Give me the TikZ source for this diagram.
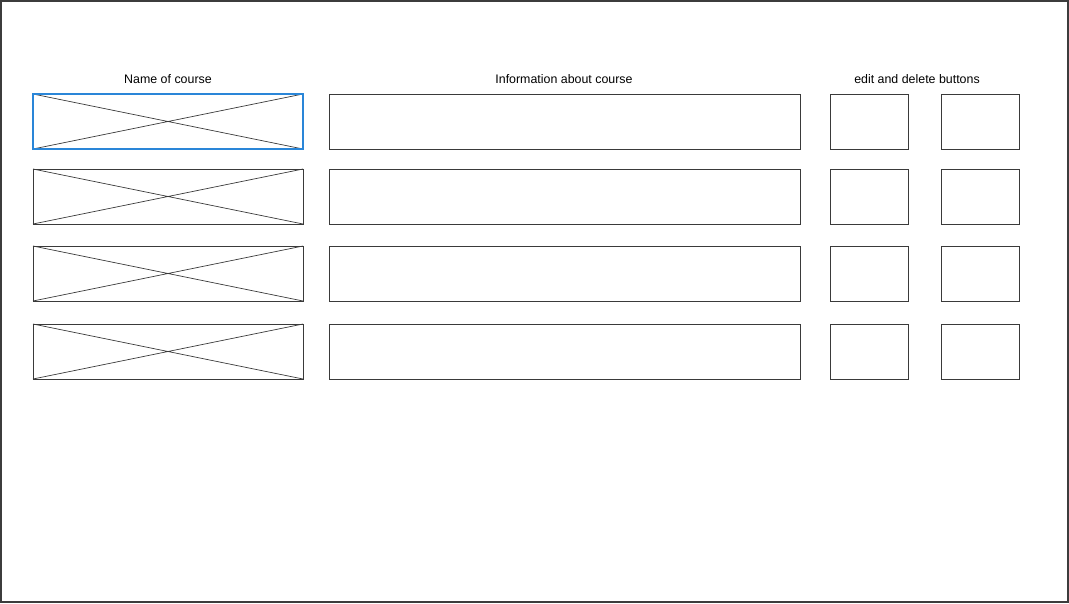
\documentclass[tikz,border=0pt]{standalone}
\usepackage{fontspec}
\setmainfont{Liberation Sans}
\definecolor{selblue}{HTML}{2A86D8}
\definecolor{linegray}{HTML}{3A3A3A}
\definecolor{framegray}{HTML}{3C3C3C}
\begin{document}
\begin{tikzpicture}[
    x=1pt, y=-1pt,
    every node/.style={inner sep=0pt, outer sep=0pt},
    box/.style={rectangle, draw=linegray, line width=0.9pt, anchor=north west, minimum height=55pt},
    heading/.style={font=\fontsize{12.4}{14}\selectfont}
]
\useasboundingbox (0,0) rectangle (1069,603);
\draw[framegray, line width=2pt] (1,1) rectangle (1068,602);

\node[heading] (hname) at (168,79.5) {Name of course};
\node[heading] (hinfo) at (564,79.5) {Information about course};
\node[heading] (hbtn) at (917,79.5) {edit and delete buttons};

\foreach \y/\i in {94/1, 169/2, 246/3, 324/4} {
    \node[box, minimum width=270pt] (name\i) at (33,\y) {};
    \draw[linegray, line width=0.7pt] (name\i.north west) -- (name\i.south east)
        (name\i.south west) -- (name\i.north east);
    \node[box, minimum width=471pt] (info\i) at (329,\y) {};
    \node[box, minimum width=78.5pt] (edit\i) at (830,\y) {};
    \node[box, minimum width=78.5pt] (del\i) at (941,\y) {};
}
% selected box
\draw[selblue, line width=1.1pt] (name1.north west) rectangle (name1.south east);
\end{tikzpicture}
\end{document}
